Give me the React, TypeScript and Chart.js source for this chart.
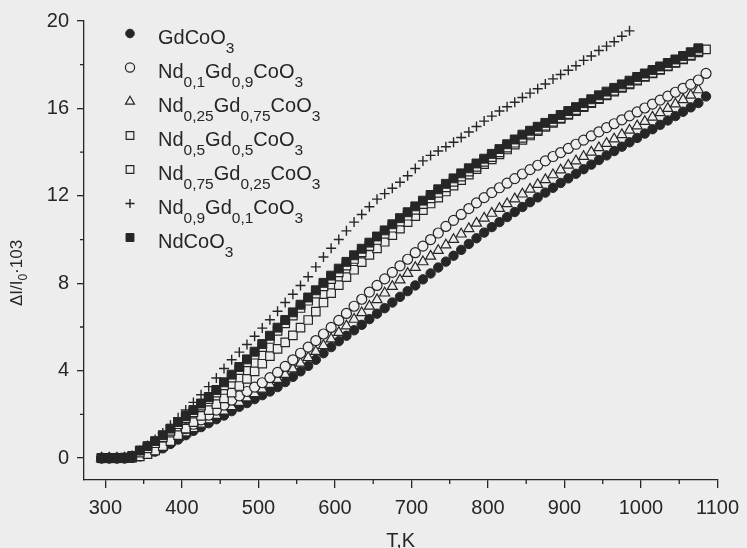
import React, { useEffect, useRef } from 'react';
import { Chart, registerables } from 'chart.js';
import { drawPoint } from 'chart.js/helpers';

Chart.register(...registerables);

const temperatureK = [295, 305, 315, 325, 335, 345, 355, 365, 375, 385, 395, 405, 415, 425, 435, 445, 455, 465, 475, 485, 495, 505, 515, 525, 535, 545, 555, 565, 575, 585, 595, 605, 615, 625, 635, 645, 655, 665, 675, 685, 695, 705, 715, 725, 735, 745, 755, 765, 775, 785, 795, 805, 815, 825, 835, 845, 855, 865, 875, 885, 895, 905, 915, 925, 935, 945, 955, 965, 975, 985, 995, 1005, 1015, 1025, 1035, 1045, 1055, 1065, 1075, 1085];

const gdCoO3 = [0, 0, 0, 0, 0.02, 0.1, 0.2, 0.3, 0.45, 0.65, 0.85, 1.05, 1.25, 1.42, 1.6, 1.78, 1.95, 2.15, 2.35, 2.52, 2.7, 2.88, 3.05, 3.25, 3.48, 3.72, 3.97, 4.22, 4.5, 4.8, 5.08, 5.35, 5.6, 5.85, 6.1, 6.36, 6.61, 6.86, 7.12, 7.38, 7.64, 7.9, 8.18, 8.45, 8.72, 8.99, 9.26, 9.53, 9.8, 10.06, 10.32, 10.57, 10.8, 11.03, 11.26, 11.49, 11.71, 11.93, 12.15, 12.37, 12.59, 12.8, 13.01, 13.22, 13.43, 13.64, 13.85, 14.05, 14.25, 14.45, 14.65, 14.85, 15.05, 15.25, 15.45, 15.65, 15.85, 16.05, 16.25, 16.55];

const nd01 = [0, 0, 0, 0, 0.03, 0.1, 0.25, 0.45, 0.7, 0.95, 1.15, 1.35, 1.55, 1.75, 1.97, 2.2, 2.43, 2.65, 2.85, 3.05, 3.25, 3.45, 3.68, 3.92, 4.2, 4.5, 4.8, 5.08, 5.38, 5.68, 5.98, 6.3, 6.62, 6.95, 7.27, 7.6, 7.9, 8.2, 8.5, 8.8, 9.1, 9.4, 9.7, 10.0, 10.3, 10.6, 10.88, 11.15, 11.42, 11.68, 11.92, 12.15, 12.37, 12.58, 12.79, 13.0, 13.2, 13.4, 13.6, 13.8, 13.98, 14.17, 14.36, 14.55, 14.74, 14.93, 15.12, 15.3, 15.48, 15.66, 15.84, 16.02, 16.2, 16.38, 16.56, 16.74, 16.92, 17.1, 17.3, 17.6];

const nd025 = [0, 0, 0, 0, 0.03, 0.12, 0.24, 0.38, 0.55, 0.75, 0.95, 1.15, 1.35, 1.55, 1.75, 1.95, 2.15, 2.35, 2.55, 2.75, 2.95, 3.15, 3.37, 3.6, 3.83, 4.08, 4.34, 4.6, 4.88, 5.15, 5.45, 5.75, 6.05, 6.35, 6.65, 6.95, 7.25, 7.55, 7.85, 8.15, 8.45, 8.72, 8.98, 9.24, 9.5, 9.75, 10.0, 10.25, 10.5, 10.75, 10.98, 11.2, 11.42, 11.64, 11.86, 12.08, 12.3, 12.52, 12.74, 12.96, 13.18, 13.4, 13.6, 13.8, 14.0, 14.2, 14.4, 14.6, 14.8, 15.0, 15.2, 15.4, 15.6, 15.8, 16.0, 16.2, 16.4, 16.6, 16.85];

const nd05 = [0, 0, 0, 0, 0.02, 0.08, 0.18, 0.35, 0.55, 0.78, 1.05, 1.35, 1.65, 1.93, 2.2, 2.47, 2.73, 3.0, 3.3, 3.63, 3.97, 4.32, 4.67, 5.0, 5.3, 5.62, 5.97, 6.32, 6.7, 7.12, 7.55, 7.92, 8.28, 8.62, 8.97, 9.3, 9.6, 9.9, 10.2, 10.5, 10.8, 11.07, 11.35, 11.65, 11.92, 12.2, 12.47, 12.72, 12.97, 13.22, 13.45, 13.67, 13.9, 14.12, 14.34, 14.56, 14.76, 14.96, 15.15, 15.34, 15.52, 15.7, 15.88, 16.06, 16.24, 16.42, 16.6, 16.77, 16.94, 17.1, 17.27, 17.44, 17.6, 17.76, 17.92, 18.08, 18.24, 18.4, 18.56, 18.7];

const nd075 = [0, 0, 0, 0, 0.05, 0.25, 0.45, 0.68, 0.95, 1.25, 1.55, 1.83, 2.1, 2.4, 2.7, 3.0, 3.33, 3.68, 4.03, 4.38, 4.73, 5.08, 5.45, 5.82, 6.17, 6.52, 6.87, 7.2, 7.53, 7.86, 8.19, 8.5, 8.81, 9.11, 9.41, 9.7, 9.98, 10.26, 10.54, 10.82, 11.09, 11.36, 11.62, 11.88, 12.14, 12.39, 12.64, 12.88, 13.11, 13.33, 13.55, 13.77, 13.99, 14.21, 14.43, 14.65, 14.84, 15.02, 15.2, 15.38, 15.56, 15.74, 15.92, 16.1, 16.28, 16.46, 16.63, 16.8, 16.97, 17.14, 17.31, 17.47, 17.63, 17.79, 17.95, 18.11, 18.27, 18.44, 18.62];

const nd09 = [0, 0, 0, 0.02, 0.12, 0.35, 0.58, 0.85, 1.15, 1.5, 1.85, 2.2, 2.55, 2.9, 3.27, 3.67, 4.1, 4.5, 4.85, 5.2, 5.58, 5.95, 6.33, 6.72, 7.12, 7.5, 7.9, 8.3, 8.75, 9.2, 9.6, 10.0, 10.4, 10.8, 11.15, 11.5, 11.85, 12.1, 12.35, 12.62, 12.92, 13.25, 13.6, 13.85, 14.05, 14.25, 14.45, 14.67, 14.92, 15.17, 15.42, 15.65, 15.88, 16.08, 16.28, 16.5, 16.7, 16.9, 17.12, 17.35, 17.55, 17.75, 17.95, 18.2, 18.4, 18.65, 18.85, 19.05, 19.3, 19.55];

const ndCoO3 = [0, 0, 0, 0.02, 0.1, 0.35, 0.55, 0.78, 1.05, 1.35, 1.65, 1.93, 2.2, 2.5, 2.8, 3.12, 3.47, 3.82, 4.17, 4.52, 4.87, 5.22, 5.6, 5.97, 6.32, 6.67, 7.02, 7.35, 7.68, 8.02, 8.35, 8.67, 8.98, 9.28, 9.58, 9.86, 10.14, 10.42, 10.7, 10.98, 11.25, 11.52, 11.78, 12.04, 12.3, 12.55, 12.8, 13.03, 13.26, 13.48, 13.7, 13.92, 14.14, 14.36, 14.58, 14.8, 14.98, 15.16, 15.34, 15.52, 15.7, 15.88, 16.06, 16.24, 16.42, 16.6, 16.77, 16.94, 17.1, 17.27, 17.44, 17.6, 17.76, 17.92, 18.08, 18.24, 18.4, 18.57, 18.75];

const xTickStep = 100;
const yTickStep = 4;
const minorXTicks = [350, 450, 550, 650, 750, 850, 950, 1050];
const minorYTicks = [2, 6, 10, 14, 18];

// legend labels: [text, isSubscript]
const legendLabels: [string, boolean][][] = [
  [['GdCoO', false], ['3', true]],
  [['Nd', false], ['0,1', true], ['Gd', false], ['0,9', true], ['CoO', false], ['3', true]],
  [['Nd', false], ['0,25', true], ['Gd', false], ['0,75', true], ['CoO', false], ['3', true]],
  [['Nd', false], ['0,5', true], ['Gd', false], ['0,5', true], ['CoO', false], ['3', true]],
  [['Nd', false], ['0,75', true], ['Gd', false], ['0,25', true], ['CoO', false], ['3', true]],
  [['Nd', false], ['0,9', true], ['Gd', false], ['0,1', true], ['CoO', false], ['3', true]],
  [['NdCoO', false], ['3', true]],
];
const yTitleParts: [string, boolean][] = [['ΔI/I', false], ['0', true], ['·103', false]];
const xTitle = 'T,K';

const INK = '#262626';
const BG = '#ededed';
const FONT = '"Liberation Sans", Arial, sans-serif';

type Style = { pointStyle: string; radius: number; filled: boolean; borderWidth: number };
const styles: Style[] = [
  { pointStyle: 'circle', radius: 4.7, filled: true, borderWidth: 1 },
  { pointStyle: 'circle', radius: 5, filled: false, borderWidth: 1.2 },
  { pointStyle: 'triangle', radius: 5.8, filled: false, borderWidth: 1.2 },
  { pointStyle: 'rect', radius: 6, filled: false, borderWidth: 1.2 },
  { pointStyle: 'rect', radius: 6, filled: false, borderWidth: 1.2 },
  { pointStyle: 'cross', radius: 5, filled: false, borderWidth: 1.4 },
  { pointStyle: 'rect', radius: 6.3, filled: true, borderWidth: 1 },
];
const legendRadius = [4.3, 4.6, 5.2, 5.4, 5.4, 4.6, 5.6];
const seriesValues = [gdCoO3, nd01, nd025, nd05, nd075, nd09, ndCoO3];
const drawOrder = [7, 5, 6, 4, 3, 1, 2];

function drawParts(ctx: CanvasRenderingContext2D, parts: [string, boolean][], x: number, y: number, mainSize: number, subSize: number, subDrop: number) {
  let cx = x;
  for (const [t, sub] of parts) {
    ctx.font = `${sub ? subSize : mainSize}px ${FONT}`;
    ctx.fillText(t, cx, sub ? y + subDrop : y);
    cx += ctx.measureText(t).width;
  }
  return cx - x;
}
function measureParts(ctx: CanvasRenderingContext2D, parts: [string, boolean][], mainSize: number, subSize: number) {
  let w = 0;
  for (const [t, sub] of parts) {
    ctx.font = `${sub ? subSize : mainSize}px ${FONT}`;
    w += ctx.measureText(t).width;
  }
  return w;
}

const decorations = {
  id: 'decorations',
  afterDraw(chart: any) {
    const ctx: CanvasRenderingContext2D = chart.ctx;
    const xs = chart.scales.x;
    const ys = chart.scales.y;
    const area = chart.chartArea;
    ctx.save();
    // minor ticks
    ctx.strokeStyle = INK;
    ctx.lineWidth = 1.3;
    ctx.beginPath();
    for (const v of minorXTicks) {
      const p = xs.getPixelForValue(v);
      ctx.moveTo(p, area.bottom);
      ctx.lineTo(p, area.bottom + 4);
    }
    for (const v of minorYTicks) {
      const p = ys.getPixelForValue(v);
      ctx.moveTo(area.left, p);
      ctx.lineTo(area.left - 4, p);
    }
    ctx.stroke();

    // legend
    ctx.fillStyle = INK;
    ctx.textBaseline = 'alphabetic';
    ctx.textAlign = 'left';
    const lx = area.left + 46;
    const ly0 = area.top + 12.5;
    const step = 34;
    legendLabels.forEach((parts, i) => {
      const y = ly0 + i * step;
      const st = styles[i];
      ctx.save();
      ctx.lineWidth = st.borderWidth;
      ctx.strokeStyle = INK;
      ctx.fillStyle = st.filled ? INK : BG;
      drawPoint(ctx, { pointStyle: st.pointStyle as any, radius: legendRadius[i], rotation: 0, borderWidth: st.borderWidth }, lx, y);
      ctx.restore();
      ctx.fillStyle = INK;
      drawParts(ctx, parts, lx + 28, y + 10, 20, 15.5, 9);
    });

    // y title
    ctx.save();
    const w = measureParts(ctx, yTitleParts, 17, 12);
    ctx.translate(0, 273);
    ctx.rotate(-Math.PI / 2);
    ctx.fillStyle = INK;
    drawParts(ctx, yTitleParts, -w / 2, 22, 17, 12, 5);
    ctx.restore();

    // x title
    ctx.font = `20px ${FONT}`;
    ctx.textAlign = 'center';
    ctx.fillText(xTitle, (area.left + area.right) / 2, 547);
    ctx.restore();
  },
};

export default function App() {
  const ref = useRef<HTMLCanvasElement | null>(null);
  useEffect(() => {
    if (!ref.current) return;
    const datasets = seriesValues.map((vals, i) => {
      const st = styles[i];
      return {
        data: vals.map((y, k) => ({ x: temperatureK[k], y })),
        showLine: false,
        order: drawOrder[i],
        pointStyle: st.pointStyle,
        pointRadius: st.radius,
        pointBorderWidth: st.borderWidth,
        pointBorderColor: INK,
        pointBackgroundColor: st.filled ? INK : BG,
        pointHoverRadius: st.radius,
      };
    });
    const tickFont = { family: FONT, size: 20 };
    const plain = (v: any) => String(v);
    const chart = new Chart(ref.current, {
      type: 'scatter',
      data: { datasets: datasets as any },
      options: {
        animation: false,
        responsive: false,
        events: [],
        layout: { padding: { top: 21, right: 24, left: 0, bottom: 0 } },
        plugins: { legend: { display: false }, tooltip: { enabled: false } },
        scales: {
          x: {
            type: 'linear',
            min: 272,
            max: 1100,
            afterFit: (s: any) => { s.height = 68; },
            ticks: { stepSize: xTickStep, includeBounds: false, font: tickFont, color: INK, padding: 8, maxRotation: 0, autoSkip: false, callback: plain },
            grid: { display: true, drawOnChartArea: false, drawTicks: true, tickLength: 8, color: INK, lineWidth: 1.3 },
            border: { display: true, color: INK, width: 1.3 },
          },
          y: {
            type: 'linear',
            min: -1,
            max: 20,
            afterFit: (s: any) => { s.width = 84; },
            ticks: { stepSize: yTickStep, includeBounds: false, font: tickFont, color: INK, padding: 8, callback: plain },
            grid: { display: true, drawOnChartArea: false, drawTicks: true, tickLength: 7, color: INK, lineWidth: 1.3 },
            border: { display: true, color: INK, width: 1.3 },
          },
        },
      },
      plugins: [decorations],
    });
    return () => chart.destroy();
  }, []);
  return (
    <div style={{ position: 'fixed', left: 0, top: 0, width: 747, height: 548, background: BG }}>
      <canvas ref={ref} width={747} height={548} style={{ display: 'block' }} />
    </div>
  );
}
